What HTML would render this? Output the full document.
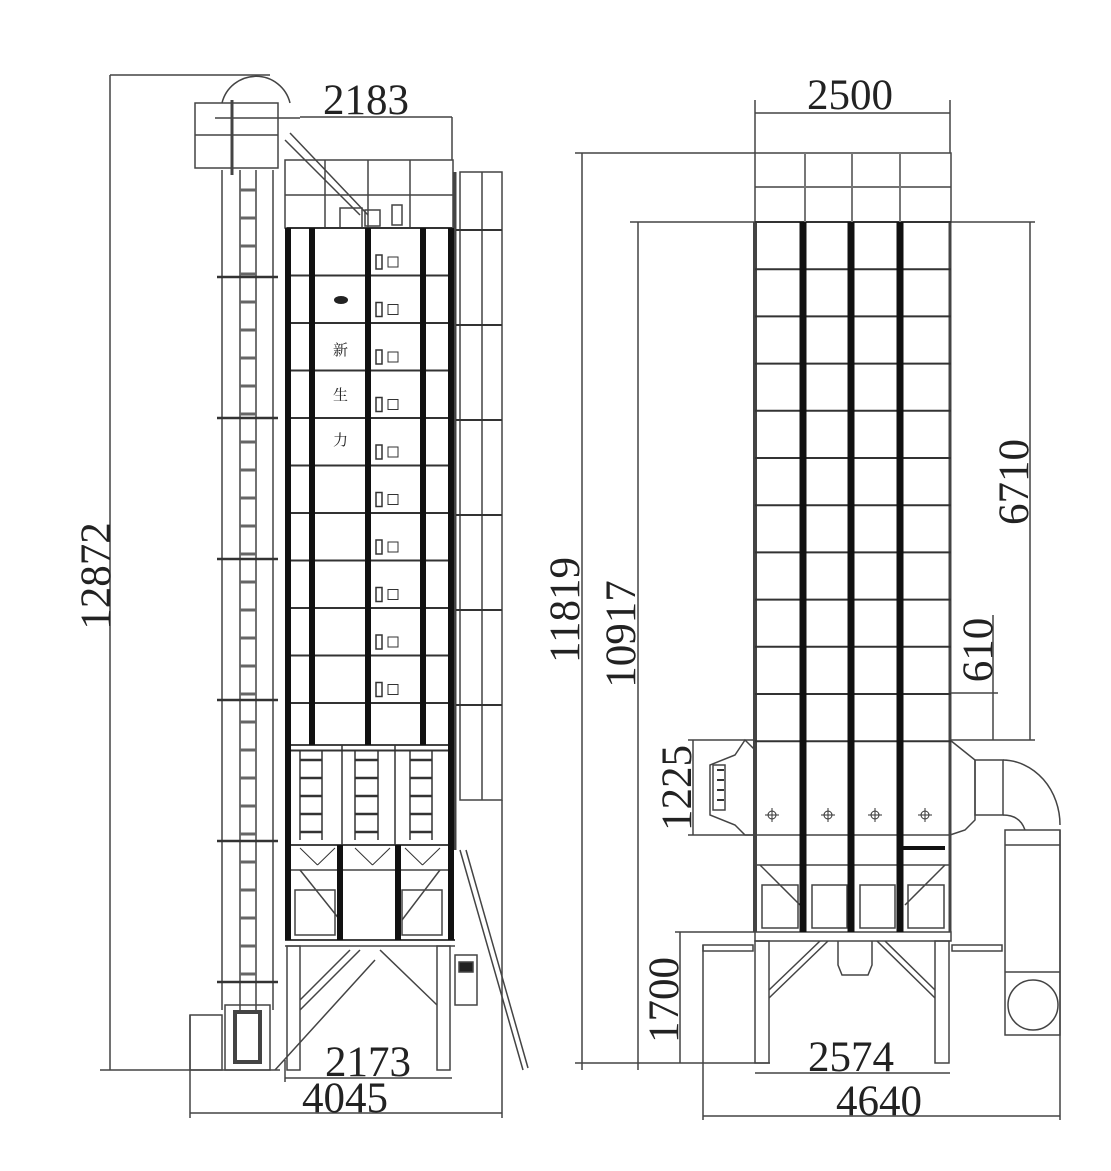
<!DOCTYPE html>
<html><head><meta charset="utf-8"><style>
html,body{margin:0;padding:0;background:#fff}
svg{display:block}
text{font-family:"Liberation Serif","Noto Serif CJK SC",serif;fill:#222}
</style></head><body>
<svg id="s" width="1111" height="1171" viewBox="0 0 1111 1171" xmlns="http://www.w3.org/2000/svg">
<g stroke="#444" fill="none" stroke-width="1.5" id="g">
<line x1="110" y1="75" x2="270" y2="75"/>
<line x1="110" y1="75" x2="110" y2="1070"/>
<line x1="100" y1="1070" x2="280" y2="1070"/>
<line x1="300" y1="117" x2="452" y2="117"/>
<line x1="452" y1="117" x2="452" y2="160"/>
<line x1="285" y1="1078" x2="452" y2="1078"/>
<line x1="190" y1="1113" x2="502" y2="1113"/>
<line x1="190" y1="1015" x2="190" y2="1118"/>
<line x1="502" y1="800" x2="502" y2="1118"/>
<line x1="285" y1="1060" x2="285" y2="1082"/>
<rect x="195" y="103" width="83" height="65"/>
<line x1="195" y1="135" x2="278" y2="135"/>
<path d="M222 103 A35 35 0 0 1 290 103"/>
<line x1="215" y1="118" x2="300" y2="118"/>
<line x1="232" y1="100" x2="232" y2="175" stroke-width="3"/>
<line x1="285" y1="140" x2="360" y2="215"/>
<line x1="290" y1="133" x2="368" y2="215"/>
<line x1="222" y1="170" x2="222" y2="1010"/>
<line x1="240" y1="170" x2="240" y2="1010"/>
<line x1="256" y1="170" x2="256" y2="1010"/>
<line x1="273" y1="170" x2="273" y2="1010"/>
<rect x="190" y="1015" width="32" height="55"/>
<rect x="225" y="1005" width="45" height="65"/>
<rect x="235" y="1012" width="25" height="50" stroke-width="4"/>
<rect x="285" y="160" width="168" height="68"/>
<line x1="285" y1="195" x2="453" y2="195"/>
<line x1="325" y1="160" x2="325" y2="228"/>
<line x1="368" y1="160" x2="368" y2="228"/>
<line x1="410" y1="160" x2="410" y2="228"/>
<rect x="340" y="208" width="22" height="20"/>
<rect x="365" y="210" width="15" height="16"/>
<rect x="392" y="205" width="10" height="20"/>
<rect x="460" y="172" width="42" height="628"/>
<line x1="482" y1="172" x2="482" y2="800"/>
<line x1="455" y1="172" x2="455" y2="850" stroke-width="3"/>
<line x1="287" y1="745" x2="452" y2="745" stroke-width="2"/>
<line x1="287" y1="845" x2="452" y2="845" stroke-width="2"/>
<line x1="287" y1="870" x2="452" y2="870"/>
<rect x="295" y="890" width="40" height="45"/>
<rect x="402" y="890" width="40" height="45"/>
<line x1="300" y1="870" x2="340" y2="920"/>
<line x1="440" y1="870" x2="402" y2="920"/>
<line x1="285" y1="940" x2="455" y2="940" stroke-width="2"/>
<line x1="285" y1="946" x2="455" y2="946"/>
<rect x="287" y="946" width="13" height="124"/>
<rect x="437" y="946" width="13" height="124"/>
<line x1="300" y1="1000" x2="350" y2="950"/>
<line x1="300" y1="1010" x2="360" y2="950"/>
<line x1="437" y1="1005" x2="380" y2="950"/>
<line x1="275" y1="1070" x2="375" y2="960"/>
<rect x="455" y="955" width="22" height="50"/>
<rect x="459" y="962" width="14" height="10" fill="#222"/>
<line x1="460" y1="850" x2="523" y2="1070"/>
<line x1="466" y1="850" x2="528" y2="1068"/>
<line x1="755" y1="113" x2="950" y2="113"/>
<line x1="755" y1="100" x2="755" y2="153"/>
<line x1="950" y1="100" x2="950" y2="153"/>
<line x1="575" y1="153" x2="755" y2="153"/>
<line x1="582" y1="153" x2="582" y2="1070"/>
<line x1="630" y1="222" x2="1035" y2="222"/>
<line x1="638" y1="222" x2="638" y2="1070"/>
<line x1="1030" y1="222" x2="1030" y2="740"/>
<line x1="950" y1="740" x2="1035" y2="740"/>
<line x1="993" y1="615" x2="993" y2="740"/>
<line x1="950" y1="693" x2="998" y2="693"/>
<line x1="693" y1="740" x2="693" y2="835"/>
<line x1="688" y1="740" x2="755" y2="740"/>
<line x1="688" y1="835" x2="755" y2="835"/>
<line x1="680" y1="932" x2="680" y2="1063"/>
<line x1="675" y1="932" x2="755" y2="932"/>
<line x1="575" y1="1063" x2="770" y2="1063"/>
<line x1="755" y1="1073" x2="950" y2="1073"/>
<line x1="703" y1="1116" x2="1060" y2="1116"/>
<line x1="703" y1="945" x2="703" y2="1120"/>
<line x1="1060" y1="830" x2="1060" y2="1120"/>
<rect x="755" y="153" width="196" height="69"/>
<line x1="755" y1="187" x2="951" y2="187"/>
<line x1="755" y1="222" x2="755" y2="932" stroke-width="4"/>
<line x1="950" y1="222" x2="950" y2="932" stroke-width="3"/>
<line x1="755" y1="835" x2="951" y2="835"/>
<line x1="755" y1="865" x2="951" y2="865"/>
<line x1="900" y1="848" x2="945" y2="848" stroke="#111" stroke-width="4"/>
<line x1="760" y1="865" x2="800" y2="905"/>
<line x1="945" y1="865" x2="905" y2="905"/>
<rect x="762" y="885" width="36" height="43"/>
<rect x="812" y="885" width="35" height="43"/>
<rect x="860" y="885" width="35" height="43"/>
<rect x="908" y="885" width="36" height="43"/>
<path d="M755 750 L745 740 L735 755 L710 765 L710 815 L735 825 L745 835 L755 835"/>
<rect x="713" y="765" width="12" height="45"/>
<path d="M950 740 L965 752 L975 760 L975 820 L965 830 L950 835"/>
<rect x="975" y="760" width="28" height="55"/>
<path d="M1003 760 A58 65 0 0 1 1060 825"/>
<path d="M1003 815 Q1020 815 1025 830"/>
<rect x="1005" y="830" width="55" height="205"/>
<line x1="1005" y1="845" x2="1060" y2="845"/>
<line x1="1005" y1="972" x2="1060" y2="972"/>
<circle cx="1033" cy="1005" r="25"/>
<rect x="755" y="932" width="196" height="9"/>
<rect x="755" y="941" width="14" height="122"/>
<rect x="935" y="941" width="14" height="122"/>
<path d="M838 941 L838 965 L842 975 L868 975 L872 965 L872 941"/>
<line x1="769" y1="990" x2="820" y2="941"/>
<line x1="769" y1="998" x2="828" y2="941"/>
<line x1="935" y1="990" x2="885" y2="941"/>
<line x1="935" y1="998" x2="877" y2="941"/>
<rect x="703" y="945" width="50" height="6"/>
<rect x="952" y="945" width="50" height="6"/>
</g>
<g id="gen" stroke="#333" fill="none"></g>
<g font-size="43">
<text x="323" y="114">2183</text>
<text x="325" y="1076">2173</text>
<text x="302" y="1112">4045</text>
<text transform="translate(110,576) rotate(-90)" text-anchor="middle">12872</text>
<text x="807" y="109">2500</text>
<text x="808" y="1071">2574</text>
<text x="836" y="1115">4640</text>
<text transform="translate(579,610) rotate(-90)" text-anchor="middle">11819</text>
<text transform="translate(635,634) rotate(-90)" text-anchor="middle">10917</text>
<text transform="translate(1028,482) rotate(-90)" text-anchor="middle">6710</text>
<text transform="translate(992,650) rotate(-90)" text-anchor="middle">610</text>
<text transform="translate(691,788) rotate(-90)" text-anchor="middle">1225</text>
<text transform="translate(678,1000) rotate(-90)" text-anchor="middle">1700</text>
</g>
<g font-size="15">
<text x="333" y="355">新</text>
<text x="333" y="400">生</text>
<text x="333" y="445">力</text>
</g>
<ellipse cx="341" cy="300" rx="7" ry="4" fill="#222"/>
</svg>
<script>
var g=document.getElementById('gen'),NS='http://www.w3.org/2000/svg';
function L(x1,y1,x2,y2,w,c){var l=document.createElementNS(NS,'line');l.setAttribute('x1',x1);l.setAttribute('y1',y1);l.setAttribute('x2',x2);l.setAttribute('y2',y2);l.setAttribute('stroke-width',w||1.5);if(c)l.setAttribute('stroke',c);g.appendChild(l);}
function R(x,y,w,h,sw){var r=document.createElementNS(NS,'rect');r.setAttribute('x',x);r.setAttribute('y',y);r.setAttribute('width',w);r.setAttribute('height',h);r.setAttribute('stroke-width',sw||1.2);g.appendChild(r);}
for(var y=190;y<1000;y+=28)L(240,y,256,y,3,'#666');
for(var y=277;y<1000;y+=141)L(217,y,278,y,2.5);
for(var i=0;i<=11;i++){var y=228+i*47.5;L(287,y,452,y,2);}
[288,451].forEach(function(x){L(x,228,x,940,6,'#111');});
[312,368,423].forEach(function(x){L(x,228,x,745,6,'#111');});
[342,395].forEach(function(x){L(x,745,x,845,1.5);});
[340,398].forEach(function(x){L(x,845,x,940,6,'#111');});
[300,322,355,378,410,432].forEach(function(x){L(x,750,x,840,1.5);});
for(var y=760;y<840;y+=18){[[300,322],[355,378],[410,432]].forEach(function(p){L(p[0],y,p[1],y,2.5);});}
[[300,335],[355,390],[405,440]].forEach(function(p){L(p[0],848,(p[0]+p[1])/2,865,1);L(p[1],848,(p[0]+p[1])/2,865,1);});
for(var i=0;i<10;i++){var y=255+i*47.5;R(376,y,6,14,1.5);R(388,y+2,10,10,1);}
for(var y=230;y<800;y+=95)L(456,y,502,y,2);
for(var i=0;i<=11;i++){var y=222+i*47.2;L(755,y,951,y,2);}
[803,851,900].forEach(function(x){L(x,222,x,932,7,'#111');});
[805,852,900].forEach(function(x){L(x,153,x,222,2,'#777');});
[772,828,875,925].forEach(function(x){var c=document.createElementNS(NS,'circle');c.setAttribute('cx',x);c.setAttribute('cy',815);c.setAttribute('r',4);g.appendChild(c);L(x-7,815,x+7,815,1);L(x,808,x,822,1);});
for(var k=0;k<4;k++){L(717,770+k*10,724,770+k*10,2);}
</script>
</body></html>
